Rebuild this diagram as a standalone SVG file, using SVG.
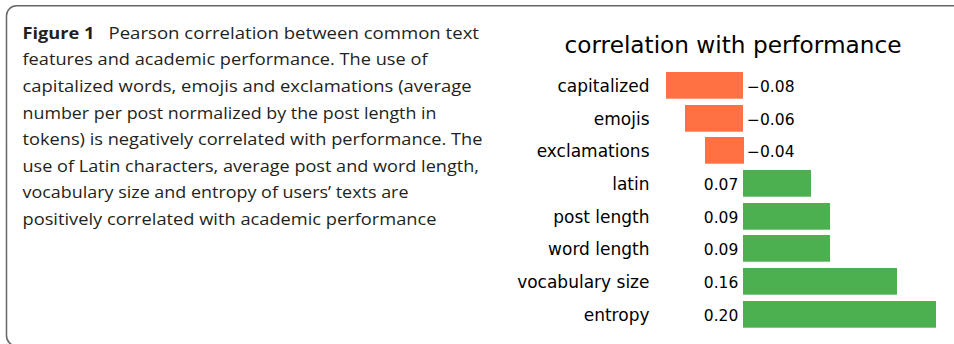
<svg xmlns="http://www.w3.org/2000/svg" width="954" height="344" viewBox="0 0 954 344">
<style>
.cap{font-family:"Open Sans","Noto Sans",sans-serif;font-size:15.5px;fill:#231f20}
.capb{font-family:"Open Sans","Noto Sans",sans-serif;font-size:15.5px;font-weight:bold;fill:#231f20}
.lbl{font-family:"DejaVu Sans",sans-serif;font-size:17px;fill:#000;text-anchor:end}
.val{font-family:"DejaVu Sans",sans-serif;font-size:15.5px;fill:#000}
.ttl{font-family:"DejaVu Sans",sans-serif;font-size:23.2px;fill:#000;text-anchor:middle}
.neg{fill:#FF7043}
.pos{fill:#4CAF50}
</style>
<rect x="0" y="0" width="954" height="344" fill="#fff"/>
<rect id="frame" x="6.5" y="5.8" width="1000" height="340" rx="10" ry="10" fill="none" stroke="#666" stroke-width="1.5"/>
<g id="caption">
<text class="capb" x="22.5" y="38.5" textLength="72" lengthAdjust="spacingAndGlyphs">Figure 1</text>
<text class="cap" x="108.5" y="38.5" textLength="370.5" lengthAdjust="spacingAndGlyphs">Pearson correlation between common text</text>
<text class="cap" x="22.5" y="65.2" textLength="405" lengthAdjust="spacingAndGlyphs">features and academic performance. The use of</text>
<text class="cap" x="22.5" y="91.8" textLength="449" lengthAdjust="spacingAndGlyphs">capitalized words, emojis and exclamations (average</text>
<text class="cap" x="22.5" y="118.5" textLength="414" lengthAdjust="spacingAndGlyphs">number per post normalized by the post length in</text>
<text class="cap" x="22.5" y="145.1" textLength="460" lengthAdjust="spacingAndGlyphs">tokens) is negatively correlated with performance. The</text>
<text class="cap" x="22.5" y="171.8" textLength="456.5" lengthAdjust="spacingAndGlyphs">use of Latin characters, average post and word length,</text>
<text class="cap" x="22.5" y="198.4" textLength="386" lengthAdjust="spacingAndGlyphs">vocabulary size and entropy of users’ texts are</text>
<text class="cap" x="22.5" y="225" textLength="414" lengthAdjust="spacingAndGlyphs">positively correlated with academic performance</text>
</g>
<text id="title" class="ttl" x="733" y="53">correlation with performance</text>
<g id="connectors"></g>
<g id="bar-capitalized"><rect class="neg" x="666" y="72" width="77" height="26.7"/><text class="lbl" x="649.5" y="92">capitalized</text><text class="val" x="747" y="92">−0.08</text></g>
<g id="bar-emojis"><rect class="neg" x="685" y="105" width="58" height="26.7"/><text class="lbl" x="649.5" y="125">emojis</text><text class="val" x="747" y="125">−0.06</text></g>
<g id="bar-exclamations"><rect class="neg" x="705" y="137" width="39" height="26.7"/><text class="lbl" x="649.5" y="157">exclamations</text><text class="val" x="747" y="157">−0.04</text></g>
<g id="bar-latin"><rect class="pos" x="743" y="170" width="68" height="26.7"/><text class="lbl" x="649.5" y="190">latin</text><text class="val" x="738.3" y="190.3" text-anchor="end">0.07</text></g>
<g id="bar-post-length"><rect class="pos" x="743" y="203" width="87" height="26.7"/><text class="lbl" x="649.5" y="223">post length</text><text class="val" x="738.3" y="223.3" text-anchor="end">0.09</text></g>
<g id="bar-word-length"><rect class="pos" x="743" y="235" width="87" height="26.7"/><text class="lbl" x="649.5" y="255">word length</text><text class="val" x="738.3" y="255.3" text-anchor="end">0.09</text></g>
<g id="bar-vocabulary-size"><rect class="pos" x="743" y="268" width="154" height="26.7"/><text class="lbl" x="649.5" y="288">vocabulary size</text><text class="val" x="738.3" y="288.3" text-anchor="end">0.16</text></g>
<g id="bar-entropy"><rect class="pos" x="743" y="301" width="193" height="26.7"/><text class="lbl" x="649.5" y="321">entropy</text><text class="val" x="738.3" y="321.3" text-anchor="end">0.20</text></g>
</svg>
